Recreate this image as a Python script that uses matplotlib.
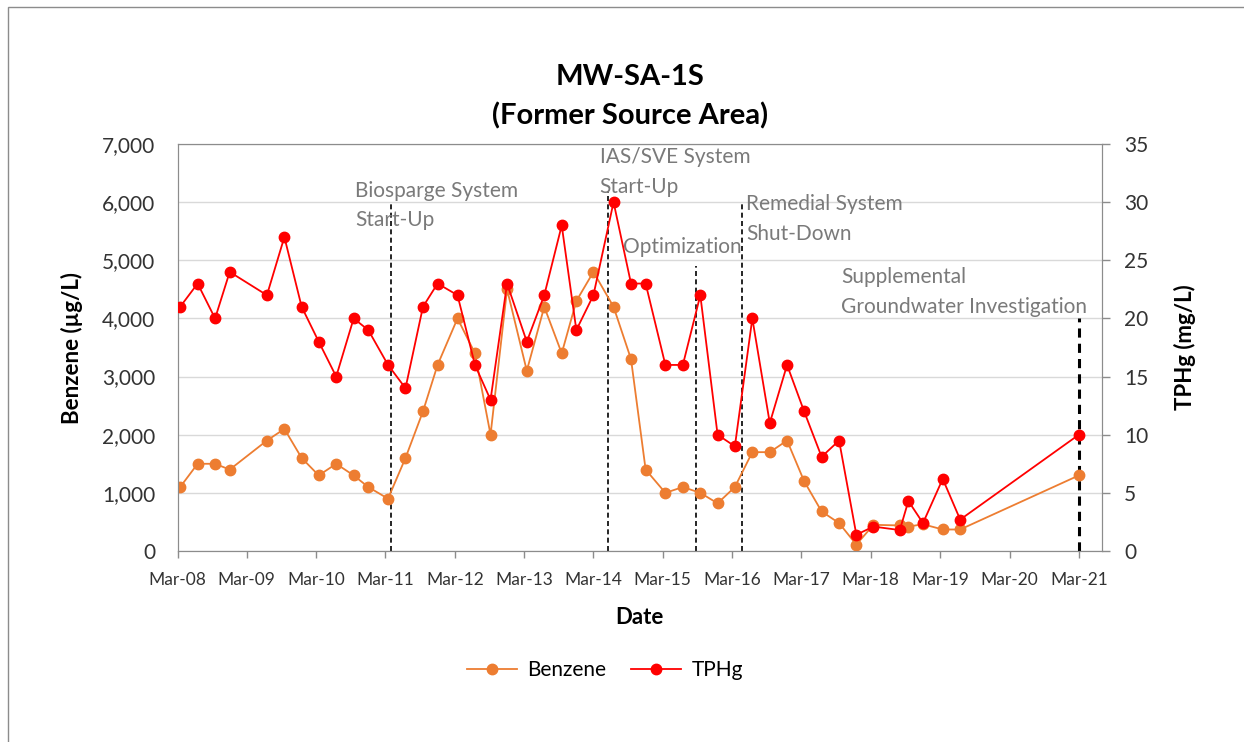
import datetime as dt
import matplotlib
matplotlib.use('Agg')
import matplotlib.pyplot as plt
import matplotlib.dates as mdates
from matplotlib.lines import Line2D
from matplotlib.patches import Rectangle

plt.rcParams['font.family'] = ['Lato', 'DejaVu Sans']

# sample dates (both series share them)
dates = [
    '2008-03-15', '2008-06-15', '2008-09-15', '2008-12-01', '2009-06-15',
    '2009-09-15', '2009-12-15', '2010-03-15', '2010-06-15', '2010-09-15',
    '2010-12-01', '2011-03-15', '2011-06-15', '2011-09-15', '2011-12-01',
    '2012-03-15', '2012-06-15', '2012-09-05', '2012-12-01', '2013-03-15',
    '2013-06-15', '2013-09-15', '2013-12-01', '2014-03-01', '2014-06-15',
    '2014-09-15', '2014-12-01', '2015-03-15', '2015-06-15', '2015-09-15',
    '2015-12-15', '2016-03-15', '2016-06-15', '2016-09-15', '2016-12-15',
    '2017-03-15', '2017-06-15', '2017-09-15', '2017-12-15', '2018-03-15',
    '2018-08-01', '2018-09-15', '2018-12-01', '2019-03-15', '2019-06-15',
    '2021-03-01',
]
benzene = [
    1100, 1500, 1500, 1400, 1900, 2100, 1600, 1300, 1500, 1300,
    1100, 900, 1600, 2400, 3200, 4000, 3400, 2000, 4500, 3100,
    4200, 3400, 4300, 4800, 4200, 3300, 1400, 1000, 1100, 1000,
    820, 1100, 1700, 1700, 1900, 1200, 680, 480, 110, 450,
    440, 420, 460, 370, 370, 1300,
]
tphg = [
    21, 23, 20, 24, 22, 27, 21, 18, 15, 20,
    19, 16, 14, 21, 23, 22, 16, 13, 23, 18,
    22, 28, 19, 22, 30, 23, 23, 16, 16, 22,
    10, 9, 20, 11, 16, 12, 8.1, 9.5, 1.4, 2.1,
    1.8, 4.3, 2.4, 6.2, 2.7, 10,
]

# remedial events: date of dashed line, label
event_dates = ['2011-04-01', '2014-05-15', '2015-08-25', '2016-04-20', '2021-03-01']
event_labels = ['Biosparge System\nStart-Up', 'IAS/SVE System\nStart-Up', 'Optimization',
                'Remedial System\nShut-Down', 'Supplemental\nGroundwater Investigation']

tick_years = list(range(2008, 2022))

d = [dt.datetime.strptime(s, '%Y-%m-%d') for s in dates]
ev = [dt.datetime.strptime(s, '%Y-%m-%d') for s in event_dates]

fig = plt.figure(figsize=(12.44, 7.42), dpi=100)
fig.patches.append(Rectangle((8 / 1244, -0.01), 1.02, 1 - 7 / 742 + 0.01, transform=fig.transFigure,
                             fill=False, edgecolor='#8c8c8c', lw=1.0))

ax = fig.add_axes([177.5 / 1244, 1 - 551 / 742, (1102 - 177.5) / 1244, (551 - 144) / 742])
ax2 = ax.twinx()

# event lines and labels
line_tops = [6000, 6200, 4900, 6000, 4000]
line_widths = [1.2, 1.2, 1.2, 1.2, 2.2]
label_pos = [('2010-09-22', 5940), ('2014-04-03', 6520), ('2014-08-03', 5230),
             ('2016-05-12', 5710), ('2017-09-25', 4455)]
for x, top, lw, lab, (lx, ly) in zip(ev, line_tops, line_widths, event_labels, label_pos):
    ax.plot([x, x], [0, top], color='black', lw=lw, ls=(0, (3, 2)), zorder=2)
    ax.text(dt.datetime.strptime(lx, '%Y-%m-%d'), ly, lab, color='#7a7a7a', fontsize=15,
            ha='left', va='center', linespacing=1.6, zorder=3)

ax.plot(d, benzene, color='#ED7D31', marker='o', markersize=7.5, lw=1.3, zorder=4)
ax2.plot(d, tphg, color='#FF0000', marker='o', markersize=7.5, lw=1.3, zorder=4)

ax.set_ylim(0, 7000)
ax2.set_ylim(0, 35)
ax.set_yticks(range(0, 7001, 1000))
ax.set_yticklabels([f'{v:,}' for v in range(0, 7001, 1000)])
ax2.set_yticks(range(0, 36, 5))
ax.grid(axis='y', color='#d9d9d9', lw=1)
ax.set_axisbelow(True)

ax.set_xlim(dt.datetime(2008, 3, 1), dt.datetime(2021, 7, 1))
ax.set_xticks([dt.datetime(y, 3, 1) for y in tick_years])
ax.xaxis.set_major_formatter(mdates.DateFormatter('%b-%y'))

for a in (ax, ax2):
    for sp in a.spines.values():
        sp.set_color('#8c8c8c')
ax.tick_params(axis='y', length=0, pad=16, labelsize=15, labelcolor='#333333')
ax2.tick_params(axis='y', length=6, width=1, color='#8c8c8c', pad=10, labelsize=15, labelcolor='#333333')
ax.tick_params(axis='x', length=5, width=1, color='#8c8c8c', pad=10, labelsize=12.5, labelcolor='#333333')

ax.set_xlabel('Date', fontsize=16, fontweight='bold', labelpad=14)
ax.set_ylabel('Benzene (µg/L)', fontsize=16, fontweight='bold', labelpad=14)
ax2.set_ylabel('TPHg (mg/L)', fontsize=16, fontweight='bold', labelpad=18)

fig.text(630 / 1244, 1 - 97 / 742, 'MW-SA-1S\n(Former Source Area)', ha='center', va='center',
         fontsize=21, fontweight='bold', linespacing=1.55)

handles = [Line2D([], [], color='#ED7D31', marker='o', markersize=7.5, lw=1.3),
           Line2D([], [], color='#FF0000', marker='o', markersize=7.5, lw=1.3)]
fig.legend(handles, ['Benzene', 'TPHg'], loc='center', bbox_to_anchor=(605 / 1244, 1 - 670 / 742),
           ncol=2, frameon=False, fontsize=15, handlelength=2.4, columnspacing=1.2, handletextpad=0.5)

fig.savefig('out.png', dpi=100)
